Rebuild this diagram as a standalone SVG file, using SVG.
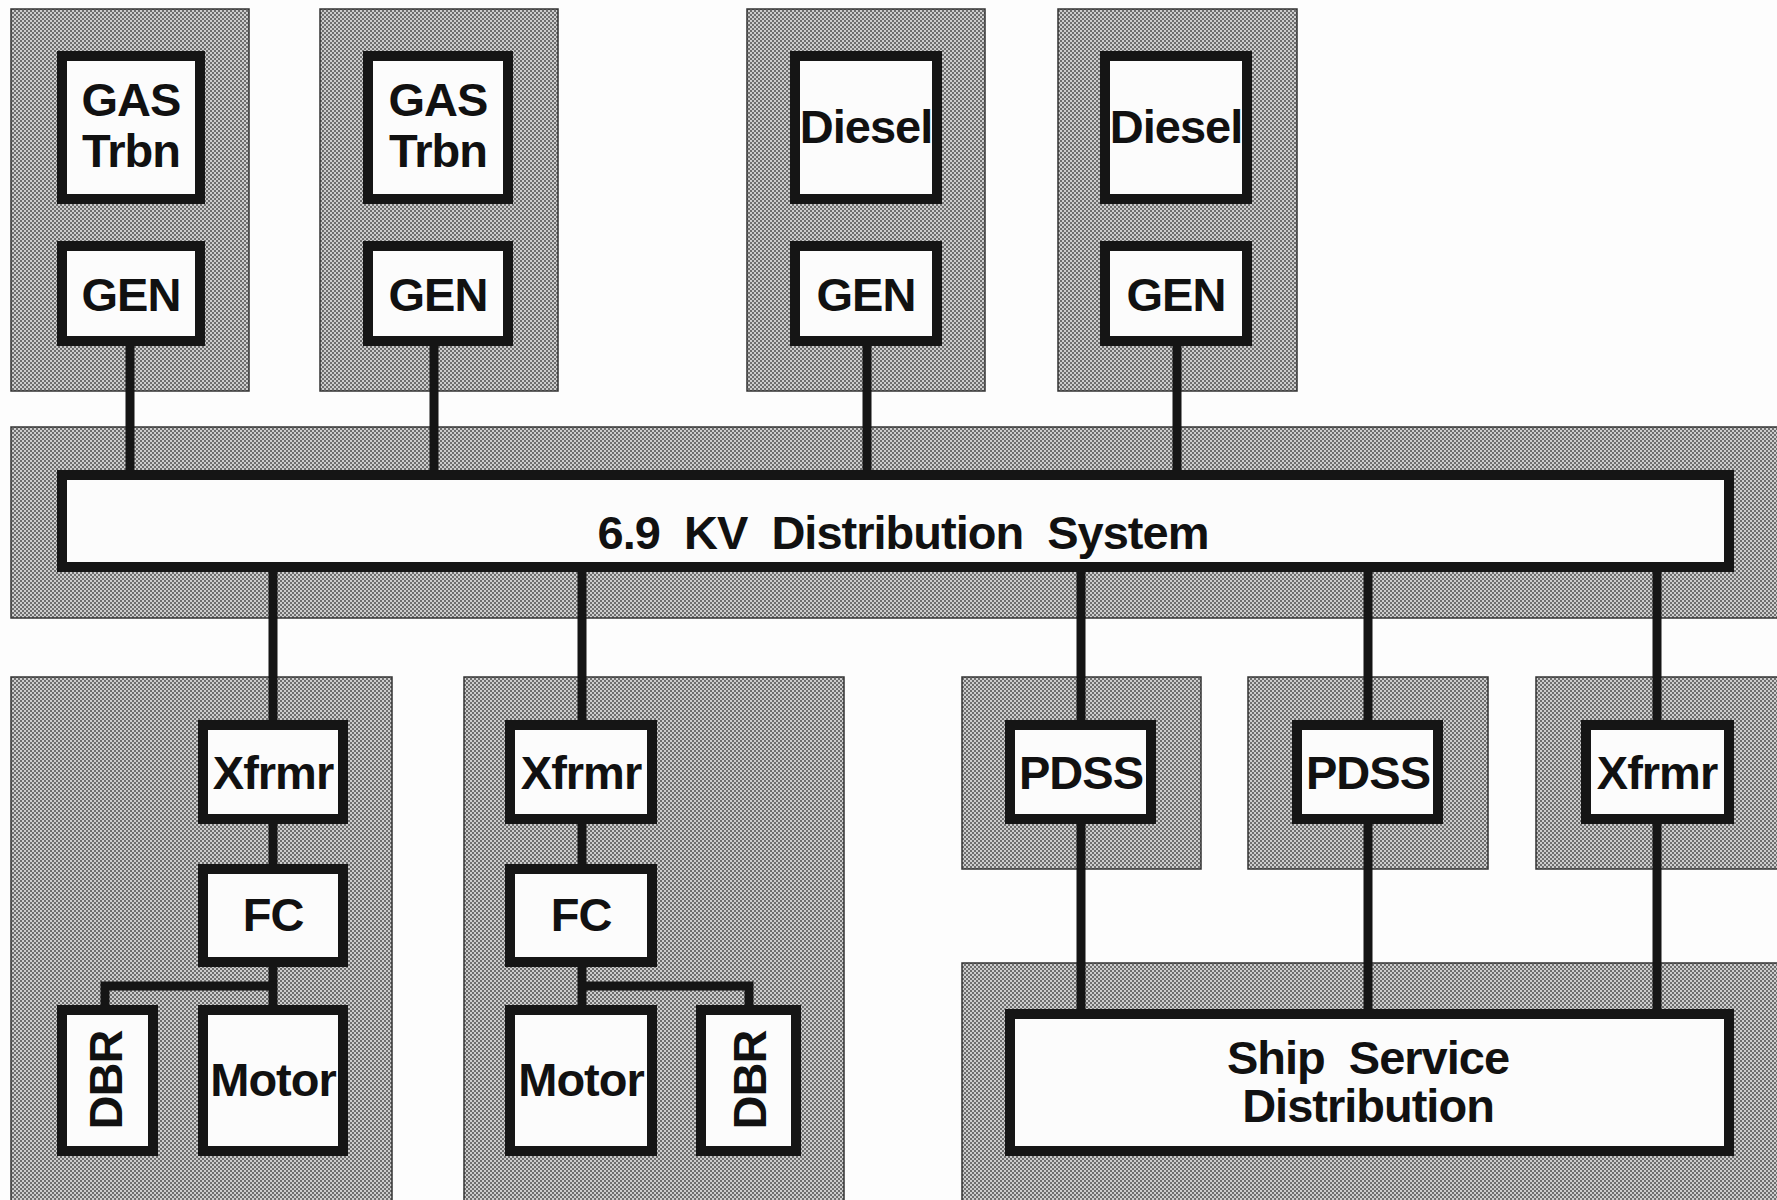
<svg xmlns="http://www.w3.org/2000/svg" width="1777" height="1200" viewBox="0 0 1777 1200">
<defs>
<pattern id="halftone" width="4" height="4" patternUnits="userSpaceOnUse">
<rect width="4" height="4" fill="#cdcdcd"/>
<rect width="2" height="2" fill="#6e6e6e"/>
<rect x="2" y="2" width="2" height="2" fill="#6e6e6e"/>
</pattern>
<style>
.panel{fill:url(#halftone);stroke:#333;stroke-width:1.5}
.box{fill:#fcfcfc;stroke:#151515;stroke-width:10}
.wire{stroke:#151515;stroke-width:9;fill:none;stroke-linecap:butt}
.lbl{font-family:"Liberation Sans",Arial,sans-serif;font-weight:bold;font-size:47px;letter-spacing:-1px;fill:#111;text-anchor:middle;white-space:pre}
</style>
</defs>
<rect width="1777" height="1200" fill="#fdfdfd"/>
<g id="panels">
<rect id="panel-gas1" class="panel" x="11" y="9" width="238" height="382"/>
<rect id="panel-gas2" class="panel" x="320" y="9" width="238" height="382"/>
<rect id="panel-diesel1" class="panel" x="747" y="9" width="238" height="382"/>
<rect id="panel-diesel2" class="panel" x="1058" y="9" width="239" height="382"/>
<rect id="panel-bus" class="panel" x="11" y="427" width="1780" height="191"/>
<rect id="panel-prop1" class="panel" x="11" y="677" width="381" height="540"/>
<rect id="panel-prop2" class="panel" x="464" y="677" width="380" height="540"/>
<rect id="panel-pdss1" class="panel" x="962" y="677" width="239" height="192"/>
<rect id="panel-pdss2" class="panel" x="1248" y="677" width="240" height="192"/>
<rect id="panel-xfmr" class="panel" x="1536" y="677" width="260" height="192"/>
<rect id="panel-ship" class="panel" x="962" y="963" width="830" height="260"/>
</g>
<g id="connectors">
<line class="wire" x1="130" y1="346" x2="130" y2="470"/>
<line class="wire" x1="434" y1="346" x2="434" y2="470"/>
<line class="wire" x1="867" y1="346" x2="867" y2="470"/>
<line class="wire" x1="1177" y1="346" x2="1177" y2="470"/>
<line class="wire" x1="273" y1="572" x2="273" y2="720"/>
<line class="wire" x1="582" y1="572" x2="582" y2="720"/>
<line class="wire" x1="1081" y1="572" x2="1081" y2="720"/>
<line class="wire" x1="1368" y1="572" x2="1368" y2="720"/>
<line class="wire" x1="1657" y1="572" x2="1657" y2="720"/>
<line class="wire" x1="273" y1="824" x2="273" y2="864"/>
<line class="wire" x1="273" y1="967" x2="273" y2="1005"/>
<polyline class="wire" points="273,986 105,986 105,1005"/>
<line class="wire" x1="582" y1="824" x2="582" y2="864"/>
<line class="wire" x1="582" y1="967" x2="582" y2="1005"/>
<polyline class="wire" points="582,986 749,986 749,1005"/>
<line class="wire" x1="1081" y1="824" x2="1081" y2="1009"/>
<line class="wire" x1="1368" y1="824" x2="1368" y2="1009"/>
<line class="wire" x1="1657" y1="824" x2="1657" y2="1009"/>
</g>
<g id="gas1"><rect class="box" x="62" y="56" width="138" height="143"/><text class="lbl" x="131" y="116">GAS<tspan x="131" y="167">Trbn</tspan></text></g>
<g id="gen1"><rect class="box" x="62" y="246" width="138" height="95"/><text class="lbl" x="131" y="311">GEN</text></g>
<g id="gas2"><rect class="box" x="368" y="56" width="140" height="143"/><text class="lbl" x="438" y="116">GAS<tspan x="438" y="167">Trbn</tspan></text></g>
<g id="gen2"><rect class="box" x="368" y="246" width="140" height="95"/><text class="lbl" x="438" y="311">GEN</text></g>
<g id="diesel1"><rect class="box" x="795" y="56" width="142" height="143"/><text class="lbl" x="866" y="143">Diesel</text></g>
<g id="gen3"><rect class="box" x="795" y="246" width="142" height="95"/><text class="lbl" x="866" y="311">GEN</text></g>
<g id="diesel2"><rect class="box" x="1105" y="56" width="142" height="143"/><text class="lbl" x="1176" y="143">Diesel</text></g>
<g id="gen4"><rect class="box" x="1105" y="246" width="142" height="95"/><text class="lbl" x="1176" y="311">GEN</text></g>
<g id="bus"><rect class="box" x="62" y="475" width="1667" height="92"/><text class="lbl" x="903" y="549">6.9  KV  Distribution  System</text></g>
<g id="xfmr1"><rect class="box" x="203" y="725" width="140" height="94"/><text class="lbl" x="273" y="789">Xfrmr</text></g>
<g id="fc1"><rect class="box" x="203" y="869" width="140" height="93"/><text class="lbl" x="273" y="931">FC</text></g>
<g id="dbr1"><rect class="box" x="62" y="1010" width="91" height="141"/><text class="lbl" x="105" y="1097" transform="rotate(-90 105 1080)">DBR</text></g>
<g id="motor1"><rect class="box" x="203" y="1010" width="140" height="141"/><text class="lbl" x="273" y="1096">Motor</text></g>
<g id="xfmr2"><rect class="box" x="510" y="725" width="142" height="94"/><text class="lbl" x="581" y="789">Xfrmr</text></g>
<g id="fc2"><rect class="box" x="510" y="869" width="142" height="93"/><text class="lbl" x="581" y="931">FC</text></g>
<g id="motor2"><rect class="box" x="510" y="1010" width="142" height="141"/><text class="lbl" x="581" y="1096">Motor</text></g>
<g id="dbr2"><rect class="box" x="701" y="1010" width="95" height="141"/><text class="lbl" x="749" y="1097" transform="rotate(-90 749 1080)">DBR</text></g>
<g id="pdss1"><rect class="box" x="1010" y="725" width="141" height="94"/><text class="lbl" x="1081" y="789">PDSS</text></g>
<g id="pdss2"><rect class="box" x="1297" y="725" width="141" height="94"/><text class="lbl" x="1368" y="789">PDSS</text></g>
<g id="xfmr3"><rect class="box" x="1586" y="725" width="143" height="94"/><text class="lbl" x="1657" y="789">Xfrmr</text></g>
<g id="ship"><rect class="box" x="1010" y="1014" width="719" height="137"/><text class="lbl" x="1368" y="1074">Ship  Service<tspan x="1368" y="1122">Distribution</tspan></text></g>
</svg>
